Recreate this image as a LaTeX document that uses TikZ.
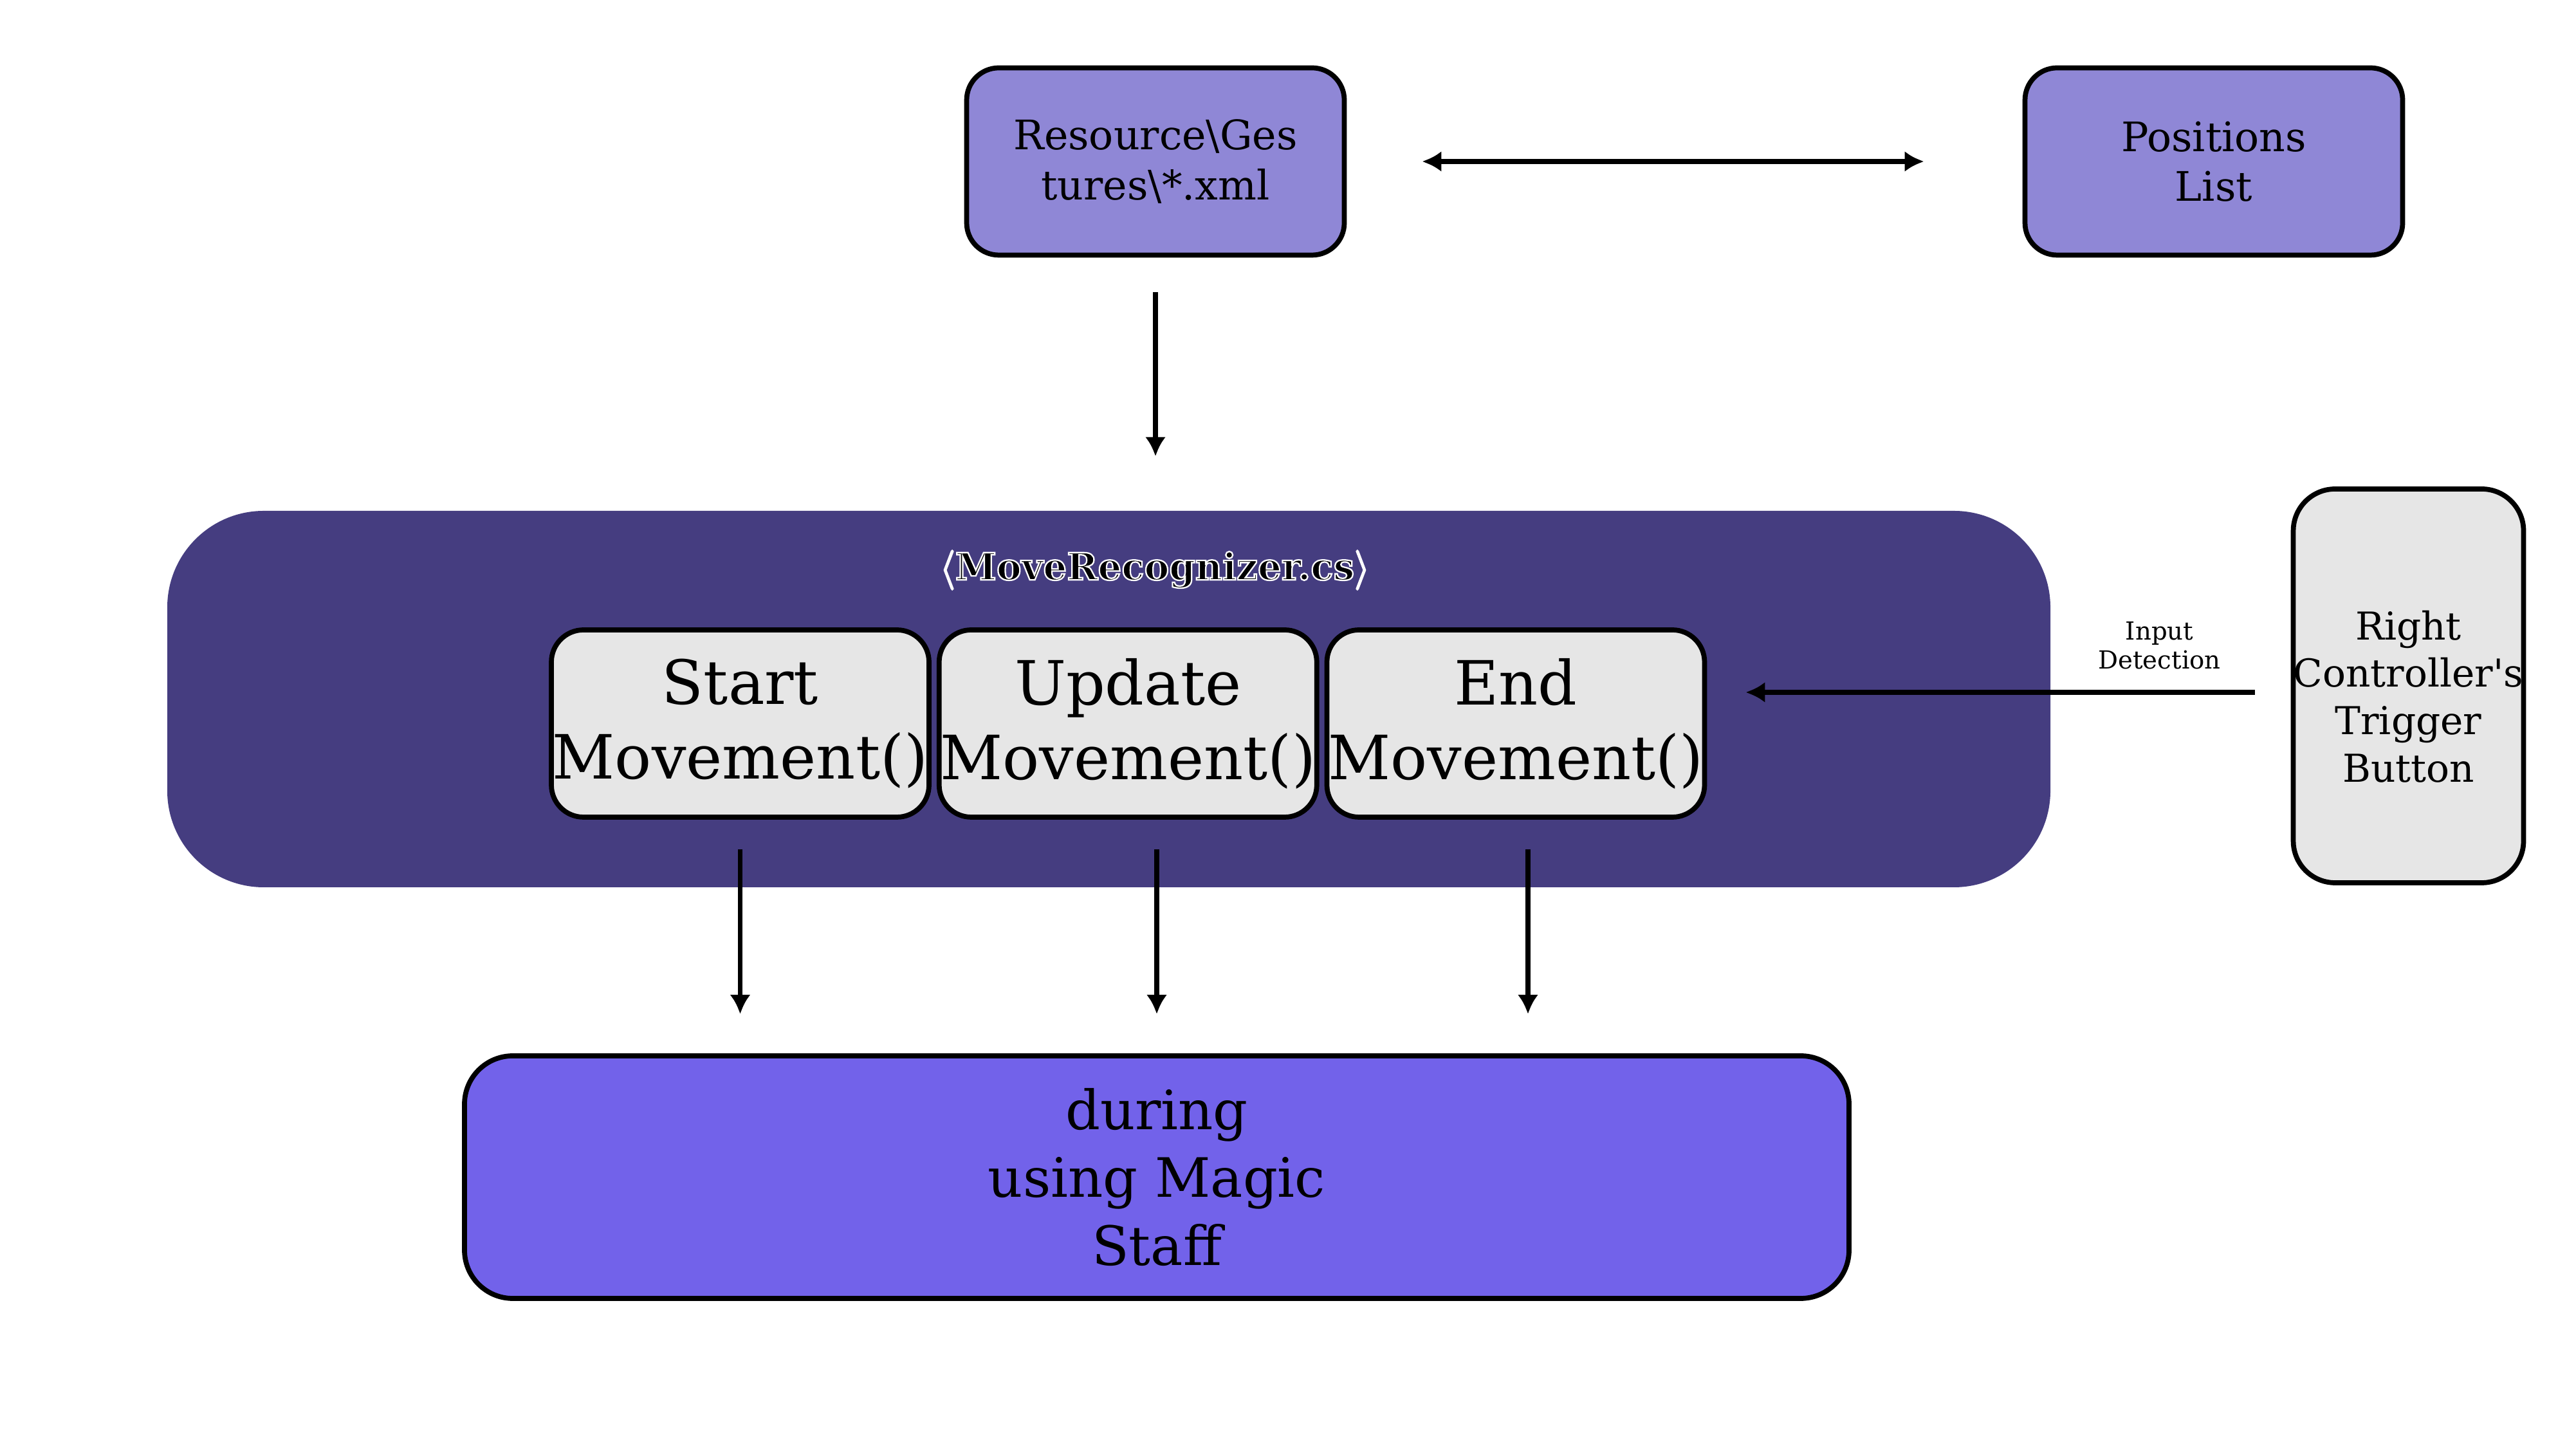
\documentclass[tikz,border=0pt]{standalone}
\usepackage{fontspec}
\setmainfont{DejaVu Serif}
\usetikzlibrary{arrows.meta,positioning}

\definecolor{gestlav}{HTML}{8F87D6}
\definecolor{recogblue}{HTML}{453D80}
\definecolor{staffblue}{HTML}{7262EA}
\definecolor{btngray}{HTML}{E6E6E6}
% outlined text: black fill, white stroke
\newcommand{\haloText}[1]{\special{pdf:literal direct 2 Tr 1 1 1 RG 0.65 w}#1\special{pdf:literal direct 0 Tr 0 0 0 RG}}

\begin{document}
\begin{tikzpicture}[
  box/.style={draw, line width=2.2pt, rounded corners=5mm, align=center, fill=#1},
  arr/.style={line width=2.2pt, -{Latex[length=3mm,width=3.2mm]}},
  darr/.style={line width=2.2pt, {Latex[length=3mm,width=3.2mm]}-{Latex[length=3mm,width=3.2mm]}},
  node distance=1mm
]
\useasboundingbox (0,0) rectangle (40.04,22.52);

% top row
\node[box=gestlav, minimum width=5.87cm, minimum height=2.91cm, font=\fontsize{18}{22}\selectfont] (gestures) at (17.96,20.01) {Resource\textbackslash Ges\\tures\textbackslash *.xml};
\node[box=gestlav, minimum width=5.87cm, minimum height=2.91cm, font=\fontsize{18}{22}\selectfont] (poslist) at (34.41,20.01) {Positions\\List};

% recognizer frame
\node[fill=recogblue, rounded corners=15mm, minimum width=29.27cm, minimum height=5.85cm] (recog) at (17.235,11.655) {};
\node[font=\fontsize{16.5}{20}\selectfont\bfseries] (recoglabel) at (17.95,13.66) {\haloText{$\langle$MoveRecognizer.cs$\rangle$}};

\node[box=btngray, minimum width=5.87cm, minimum height=2.91cm, inner sep=0pt, font=\fontsize{27}{33}\selectfont] (startmv) at (11.505,11.275) {Start\\Movement()};
\node[box=btngray, minimum width=5.87cm, minimum height=2.91cm, inner sep=0pt, font=\fontsize{27}{33}\selectfont, right=0.08cm of startmv] (updatemv) {Update\\Movement()};
\node[box=btngray, minimum width=5.87cm, minimum height=2.91cm, inner sep=0pt, font=\fontsize{27}{33}\selectfont, right=0.08cm of updatemv] (endmv) {End\\Movement()};

% trigger
\node[box=btngray, rounded corners=6.5mm, minimum width=3.55cm, minimum height=6.12cm, inner sep=0pt, text height=3.0cm, font=\fontsize{17}{21}\selectfont] (trigger) at (37.435,11.86) {Right\\Controller\textquotesingle s\\Trigger\\Button};

% bottom
\node[box=staffblue, rounded corners=7.5mm, minimum width=21.52cm, minimum height=3.77cm, font=\fontsize{24}{30}\selectfont] (staff) at (17.98,4.225) {during\\using Magic\\Staff};

\draw[darr, shorten <=1.17cm, shorten >=1.53cm] (gestures) -- (poslist);
\draw[arr, shorten <=0.54cm, shorten >=0.84cm] (gestures.south) -- (gestures.south |- recog.north);

\draw[arr, shorten <=0.56cm, shorten >=0.6cm] ([yshift=-0.1cm]trigger.west) -- ([yshift=-0.1cm]trigger.west -| endmv.east)
  node[pos=0.225, above=2mm, align=center, font=\fontsize{11}{13}\selectfont] {Input\\Detection};

\draw[arr, shorten <=0.46cm, shorten >=0.61cm] (startmv.south) -- (startmv.south |- staff.north);
\draw[arr, shorten <=0.46cm, shorten >=0.61cm] (updatemv.south -| staff.north) -- (staff.north);
\draw[arr, shorten <=0.46cm, shorten >=0.61cm] ([xshift=0.19cm]endmv.south) -- ([xshift=0.19cm]endmv.south |- staff.north);

\end{tikzpicture}
\end{document}
